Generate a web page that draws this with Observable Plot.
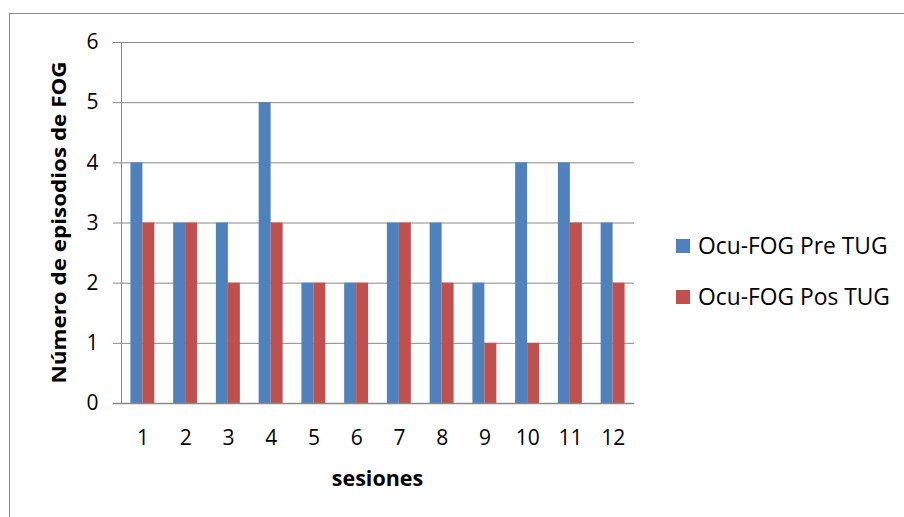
<!DOCTYPE html>
<html>
<head>
<meta charset="utf-8">
<script src="https://cdn.jsdelivr.net/npm/d3@7"></script>
<script src="https://cdn.jsdelivr.net/npm/@observablehq/plot@0.6"></script>
<style>
  html, body { margin: 0; padding: 0; background: #fff; }
  #wrap { position: relative; width: 904px; height: 517px; overflow: hidden; font-family: "Open Sans", "Liberation Sans", sans-serif; }
  #border { position: absolute; left: 9px; top: 13px; right: -2px; bottom: -2px; border-left: 1px solid #888; border-top: 1px solid #888; pointer-events: none; }
  #legend { position: absolute; left: 676px; top: 220px; font-size: 22.8px; color: #000; }
  #legend .item { display: flex; align-items: center; height: 51px; white-space: nowrap; }
  #legend .sw { width: 14px; height: 14px; margin-right: 8px; }
  svg { position: absolute; left: 0; top: 0; }
</style>
</head>
<body>
<div id="wrap">
  <div id="chart"></div>
  <div id="border"></div>
  <div id="legend"></div>
</div>
<script>
const sessions = ["1","2","3","4","5","6","7","8","9","10","11","12"];
const preTUG = [4,3,3,5,2,2,3,3,2,4,4,3];
const posTUG = [3,3,2,3,2,2,3,2,1,1,3,2];
const seriesNames = ["Ocu-FOG Pre TUG", "Ocu-FOG Pos TUG"];
const seriesColors = ["#4F81BD", "#C0504D"];
const yTicks = [0,1,2,3,4,5,6];

const pre = sessions.map((s, i) => ({session: s, value: preTUG[i]}));
const pos = sessions.map((s, i) => ({session: s, value: posTUG[i]}));

const W = 904, H = 517, mL = 121, mR = 270, mT = 42, mB = 114;
const bw = (W - mL - mR) / sessions.length;

const chart = Plot.plot({
  width: W,
  height: H,
  marginLeft: mL,
  marginRight: mR,
  marginTop: mT,
  marginBottom: mB,
  style: {fontFamily: "'Open Sans', 'Liberation Sans', sans-serif", fontSize: "21px", color: "#000", background: "transparent"},
  x: {domain: sessions, paddingInner: 0.72, paddingOuter: 0.36, round: false, label: null, tickSize: 0, tickPadding: 27},
  y: {domain: [0, 6], ticks: yTicks, label: null, tickSize: 0, tickPadding: 23, tickFormat: d3.format("d")},
  marks: [
    Plot.ruleY(yTicks, {stroke: "#888", strokeWidth: 1, strokeOpacity: 1, insetLeft: -8}),
    Plot.frame({anchor: "left", stroke: "#888", strokeOpacity: 1}),
    Plot.barY(pre, {x: "session", y: "value", fill: seriesColors[0], dx: -bw * 0.14}),
    Plot.barY(pos, {x: "session", y: "value", fill: seriesColors[1], dx: bw * 0.14}),
    Plot.ruleY([0], {stroke: "#888", strokeWidth: 1.5, insetLeft: -8})
  ]
});
document.getElementById("chart").appendChild(chart);

const svg = d3.select(chart);
svg.append("text")
  .attr("transform", `translate(61,${(mT + (H - mB)) / 2}) rotate(-90)`)
  .attr("text-anchor", "middle")
  .attr("dominant-baseline", "middle")
  .attr("font-weight", "bold")
  .attr("font-size", "19px")
  .attr("textLength", 322)
  .attr("lengthAdjust", "spacingAndGlyphs")
  .attr("fill", "#000")
  .text("Número de episodios de FOG");
svg.append("text")
  .attr("x", mL + (W - mL - mR) / 2)
  .attr("y", 480)
  .attr("text-anchor", "middle")
  .attr("dominant-baseline", "middle")
  .attr("font-weight", "bold")
  .attr("font-size", "21.5px")
  .attr("fill", "#000")
  .text("sesiones");

const leg = document.getElementById("legend");
seriesNames.forEach((n, i) => {
  const it = document.createElement("div");
  it.className = "item";
  it.innerHTML = `<div class="sw" style="background:${seriesColors[i]}"></div><span>${n}</span>`;
  leg.appendChild(it);
});
</script>
</body>
</html>
